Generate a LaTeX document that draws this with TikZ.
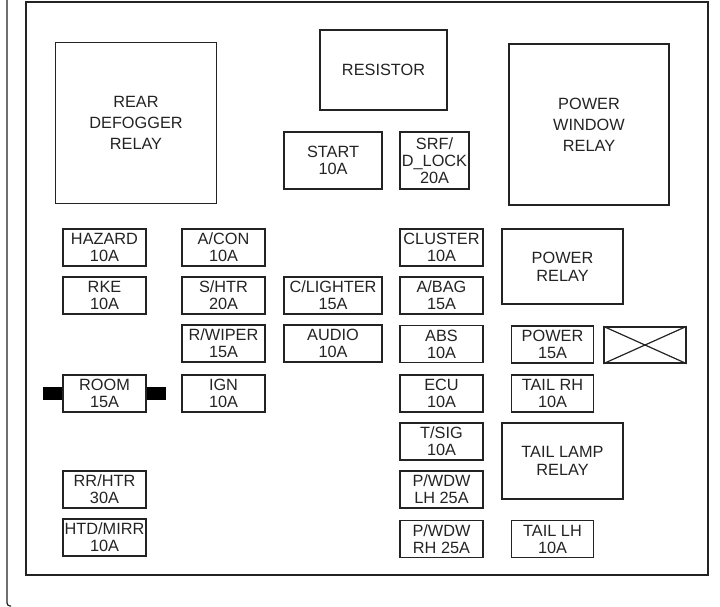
\documentclass[tikz,border=0pt]{standalone}
\usepackage{fontspec}
\setmainfont{Liberation Sans}
\usepackage{xcolor}
\usetikzlibrary{positioning}
\definecolor{inkgray}{RGB}{35,35,35}

\begin{document}
\begin{tikzpicture}[x=1pt, y=-1pt]
	\tikzstyle{box}=[rectangle, draw=inkgray, line width=1.4pt, inner sep=0pt, align=center, text=inkgray, font=\fontsize{16.3}{17}\selectfont]
	\tikzstyle{fuse}=[box, minimum width=83pt, minimum height=37pt]
	\tikzstyle{relay}=[box, minimum width=161pt, minimum height=161pt, font=\fontsize{16.3}{21}\selectfont]
	\tikzstyle{tab}=[rectangle, fill=black, inner sep=0pt, minimum width=19pt, minimum height=13pt]

	\useasboundingbox (0,0) rectangle (720,607);

	% frames
	\draw[inkgray, line width=1.2pt, rounded corners=3pt] (7,-2) -- (7,606) -- (11,606);
	\draw[inkgray, line width=1.6pt] (26,2) rectangle (708,575);

	% relays
	\node[relay] (defogger) at (136,123) {REAR\\DEFOGGER\\RELAY};
	\node[relay, minimum width=160pt] (window) at (589,124.5) {POWER\\WINDOW\\RELAY};
	\node[box, minimum width=127pt, minimum height=80pt] (resistor) at (383.5,70) {RESISTOR};
	\node[box, minimum width=121pt, minimum height=75pt, font=\fontsize{16.3}{18}\selectfont] (powerrelay) at (562.5,266.5) {POWER\\RELAY};
	\node[box, minimum width=121pt, minimum height=76pt, font=\fontsize{16.3}{18}\selectfont] (taillamp) at (562.5,461) {TAIL LAMP\\RELAY};

	% top fuses
	\node[fuse, minimum width=98pt, minimum height=57pt] (start) at (333,160.5) {START\\10A};
	\node[fuse, minimum width=69pt, minimum height=57pt] (srf) at (434.5,160.5) {SRF/\\D\_LOCK\\20A};

	% fuse columns
	\foreach \id/\y/\txt in {hazard/247.5/{HAZARD\\10A}, rke/295.5/{RKE\\10A}, room/393.5/{ROOM\\15A}, rrhtr/489.5/{RR/HTR\\30A}, htdmirr/537.5/{HTD/MIRR\\10A}}{
		\node[fuse] (\id) at (104.5,\y) {\txt};
	}
	\foreach \id/\y/\txt in {acon/247.5/{A/CON\\10A}, shtr/295.5/{S/HTR\\20A}, rwiper/343.5/{R/WIPER\\15A}, ign/393.5/{IGN\\10A}}{
		\node[fuse] (\id) at (223.5,\y) {\txt};
	}
	\foreach \id/\y/\txt in {clighter/295.5/{C/LIGHTER\\15A}, audio/343.5/{AUDIO\\10A}}{
		\node[fuse, minimum width=98pt] (\id) at (333,\y) {\txt};
	}
	\foreach \id/\y/\txt in {cluster/247.5/{CLUSTER\\10A}, abag/295.5/{A/BAG\\15A}, abs/344/{ABS\\10A}, ecu/393.5/{ECU\\10A}, tsig/441.5/{T/SIG\\10A}, pwdwlh/489.5/{P/WDW\\LH 25A}, pwdwrh/539/{P/WDW\\RH 25A}}{
		\node[fuse] (\id) at (441.5,\y) {\txt};
	}
	\foreach \id/\y/\txt in {power/344.5/{POWER\\15A}, tailrh/393.5/{TAIL RH\\10A}, taillh/539/{TAIL LH\\10A}}{
		\node[fuse, minimum width=82pt] (\id) at (552.5,\y) {\txt};
	}

	% empty slot
	\node[box, minimum width=82pt, minimum height=36pt] (spare) at (645,345) {};
	\draw[inkgray, line width=1.2pt] (spare.north west) -- (spare.south east);
	\draw[inkgray, line width=1.2pt] (spare.south west) -- (spare.north east);

	% room terminals
	\node[tab, left=0pt of room] (roomleft) {};
	\node[tab, right=0pt of room] (roomright) {};
\end{tikzpicture}
\end{document}
